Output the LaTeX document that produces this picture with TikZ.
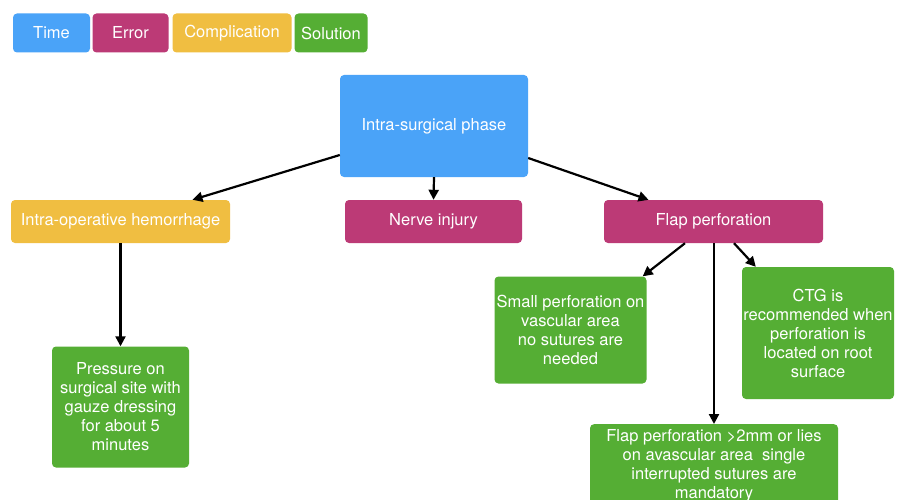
\documentclass[tikz,border=0pt]{standalone}
\usepackage{fontspec}
\setmainfont{TeX Gyre Heros}
\usetikzlibrary{arrows.meta,calc}
\definecolor{cTime}{HTML}{4AA3F8}
\definecolor{cErr}{HTML}{BC3A76}
\definecolor{cComp}{HTML}{F0BE41}
\definecolor{cSol}{HTML}{55AE34}
\tikzset{
  boxbase/.style={rounded corners=4pt, inner sep=0pt, align=center, text=white,
    font=\fontsize{16.5}{19}\selectfont},
  timebox/.style={boxbase, fill=cTime},
  errbox/.style={boxbase, fill=cErr},
  compbox/.style={boxbase, fill=cComp},
  solbox/.style={boxbase, fill=cSol},
  conn/.style={line width=2.2pt, -{Triangle[length=10pt,width=10pt]}},
}
\begin{document}
\begin{tikzpicture}[x=1pt,y=-1pt]
\clip (0,0) rectangle (904,500);
\fill[white] (0,0) rectangle (904,500);
% legend
\node[timebox, minimum width=77pt, minimum height=39pt] (lt) at (51.5,33) {Time};
\node[errbox, minimum width=76pt, minimum height=39pt] (le) at (130.5,33) {Error};
\node[compbox, minimum width=119pt, minimum height=39pt] (lc) at (232,33) {Complication};
\node[solbox, minimum width=73pt, minimum height=39pt] (ls) at (331,33) {Solution};
% main
\node[timebox, minimum width=188pt, minimum height=102pt] (isp) at (434,126) {Intra-surgical phase};
\node[compbox, minimum width=219pt, minimum height=43pt] (hem) at (120.5,221.5) {Intra-operative hemorrhage};
\node[errbox, minimum width=177pt, minimum height=43pt] (nerve) at (433.5,221.5) {Nerve injury};
\node[errbox, minimum width=219pt, minimum height=43pt] (flap) at (713.5,221.5) {Flap perforation};
\node[solbox, minimum width=137pt, minimum height=121pt] (press) at (120.5,407) {Pressure on\\surgical site with\\gauze dressing\\for about 5\\minutes};
\node[solbox, minimum width=152pt, minimum height=107pt] (small) at (570.5,330) {Small perforation on\\vascular area\\no sutures are\\needed};
\node[solbox, minimum width=152pt, minimum height=132pt] (ctg) at (818,333) {CTG is\\recommended when\\perforation is\\located on root\\surface};
\node[solbox, minimum width=248pt, minimum height=100pt, anchor=north] (big) at (714,424) {};
\node[align=center, text=white, font=\fontsize{16.5}{19}\selectfont, anchor=north, inner sep=0pt] (bigtext) at (714,429.5) {Flap perforation >2mm or lies\\on avascular area\ \ single\\interrupted sutures are\\mandatory};
% connectors
\draw[conn] ([yshift=-29pt]isp.west) -- ([xshift=72pt]hem.north);
\draw[conn] (isp.south) -- (nerve.north);
\draw[conn] ([yshift=-32pt]isp.east) -- ([xshift=-65pt]flap.north);
\draw[conn] (hem.south) -- (press.north);
\draw[conn] ([xshift=-28.5pt]flap.south) -- ([xshift=-4pt]small.north east);
\draw[conn] ([xshift=0.5pt]flap.south) -- (big.north);
\draw[conn] ([xshift=20.5pt]flap.south) -- ([xshift=14pt]ctg.north west);
\end{tikzpicture}
\end{document}
